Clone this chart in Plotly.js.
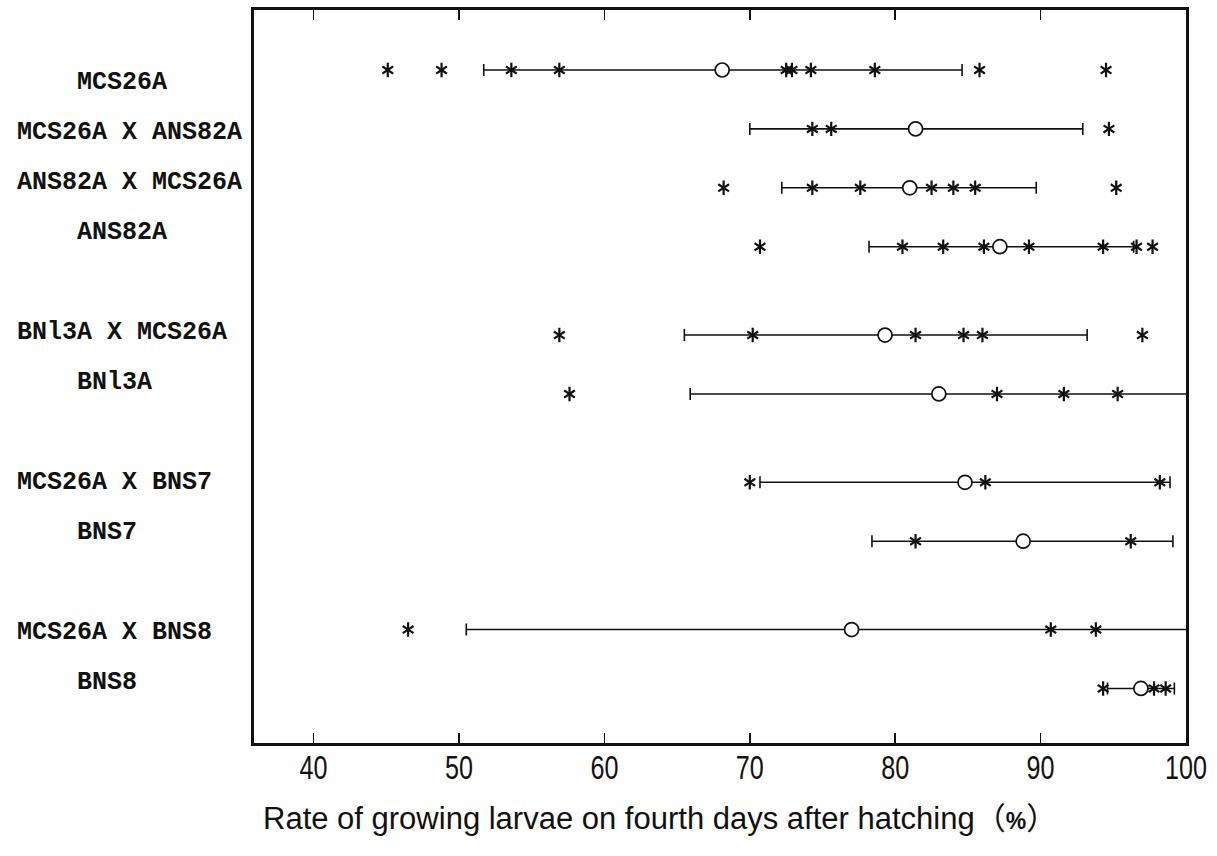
<!DOCTYPE html>
<html>
<head>
<meta charset="utf-8">
<script src="https://cdn.plot.ly/plotly-3.0.1.min.js"></script>
<style>
  html, body { margin: 0; padding: 0; background: #ffffff; }
  #chart { width: 1217px; height: 856px; }
  /* narrow, tall tick numerals (label groups only, not the tick marks) */
  #chart g.xtick {
    transform-box: fill-box;
    transform-origin: center;
    transform: scaleX(0.74);
  }
</style>
</head>
<body>
<div id="chart"></div>
<script>
// Strains and crosses, top to bottom
const groups = [
  'MCS26A', 'MCS26A X ANS82A', 'ANS82A X MCS26A', 'ANS82A',
  'BNl3A X MCS26A', 'BNl3A',
  'MCS26A X BNS7', 'BNS7',
  'MCS26A X BNS8', 'BNS8'
];

// Mean rate (%) of each group
const means = [68.1, 81.4, 81.0, 87.2, 79.3, 83.0, 84.8, 88.8, 77.0, 96.9];

// Lower and upper ends of the mean ± SD bar
const sdLow  = [51.7, 70.0, 72.2, 78.2, 65.5, 65.9, 70.7, 78.4, 50.5, 94.6];
const sdHigh = [84.6, 92.9, 89.7, 96.4, 93.2, 100.1, 98.9, 99.1, 103.5, 99.2];

// Individual observations (%) per group
const obsMCS26A        = [45.1, 48.8, 53.6, 56.9, 72.5, 72.9, 74.2, 78.6, 85.8, 94.5];
const obsMCS26xANS82   = [74.3, 75.6, 94.7];
const obsANS82xMCS26   = [68.2, 74.3, 77.6, 82.5, 84.0, 85.5, 95.2];
const obsANS82A        = [70.7, 80.5, 83.3, 86.1, 89.2, 94.3, 96.6, 97.7];
const obsBN13xMCS26    = [56.9, 70.2, 81.4, 84.7, 86.0, 97.0];
const obsBN13A         = [57.6, 87.0, 91.6, 95.3];
const obsMCS26xBNS7    = [70.0, 86.2, 98.2];
const obsBNS7          = [81.4, 96.2];
const obsMCS26xBNS8    = [46.5, 90.7, 93.8];
const obsBNS8          = [94.3, 97.8, 98.6];

const observations = [
  obsMCS26A, obsMCS26xANS82, obsANS82xMCS26, obsANS82A,
  obsBN13xMCS26, obsBN13A, obsMCS26xBNS7, obsBNS7,
  obsMCS26xBNS8, obsBNS8
];

const xTicks = [40, 50, 60, 70, 80, 90, 100];

// ---- layout of rows (vertical slots) ----
const rowSlot   = [0, 1, 2, 3, 4.5, 5.5, 7, 8, 9.5, 10.5];
const labelSlot = [0, 1, 2, 3, 5, 6, 8, 9, 11, 12];
const labelY = s => 0.204 + 0.849 * s;

// flatten observations into x / y pairs
const obsX = [], obsY = [];
observations.forEach((arr, i) => arr.forEach(v => { obsX.push(v); obsY.push(rowSlot[i]); }));

const starLine = { color: '#111111', width: 2.2 };

const traces = [
  {
    type: 'scatter', mode: 'markers', x: obsX, y: obsY, hoverinfo: 'x',
    marker: { symbol: 'y-up-open', size: 9, color: '#111111', line: starLine },
    showlegend: false
  },
  {
    type: 'scatter', mode: 'markers', x: obsX, y: obsY, hoverinfo: 'skip',
    marker: { symbol: 'y-down-open', size: 9, color: '#111111', line: starLine },
    showlegend: false
  },
  {
    type: 'scatter', mode: 'markers',
    x: means, y: rowSlot, hoverinfo: 'x',
    error_x: {
      type: 'data', symmetric: false,
      array: means.map((m, i) => sdHigh[i] - m),
      arrayminus: means.map((m, i) => m - sdLow[i]),
      color: '#111111', thickness: 1.6, width: 6
    },
    marker: { symbol: 'circle', size: 14, color: '#ffffff', line: { color: '#111111', width: 1.7 } },
    showlegend: false
  }
];

const annotations = groups.map((g, i) => ({
  text: g,
  xref: 'paper', yref: 'y',
  x: g.indexOf(' X ') >= 0 ? (15 - 254) / 932 : (75 - 254) / 932,
  y: labelY(labelSlot[i]),
  xanchor: 'left', yanchor: 'middle',
  showarrow: false,
  font: { family: 'Liberation Mono, DejaVu Sans Mono, monospace', size: 25, color: '#111111', weight: 'bold' }
}));

annotations.push({
  text: 'Rate of growing larvae on fourth days after hatching<span style="font-family:Noto Sans CJK JP">（</span><b><span style="font-size:23px">%</span></b><span style="font-family:Noto Sans CJK JP">）</span>',
  xref: 'paper', yref: 'paper',
  x: (660 - 254) / 932, y: (743 - 815) / 733,
  xanchor: 'center', yanchor: 'middle',
  showarrow: false,
  font: { family: 'Liberation Sans, Arial, sans-serif', size: 31, color: '#111111' }
});

const layout = {
  width: 1217, height: 856,
  margin: { l: 254, r: 31, t: 10, b: 113 },
  paper_bgcolor: '#ffffff', plot_bgcolor: '#ffffff',
  showlegend: false,
  xaxis: {
    range: [35.9, 100],
    tickvals: xTicks, ticktext: xTicks.map(String),
    ticks: 'inside', ticklen: 10, tickwidth: 1.6, tickcolor: '#111111',
    showline: true, linewidth: 3, linecolor: '#111111', mirror: 'ticks',
    showgrid: false, zeroline: false,
    ticklabelstandoff: -8,
    tickfont: { family: 'Liberation Sans, Arial, sans-serif', size: 34, color: '#111111' }
  },
  yaxis: {
    range: [11.426, -1.019],
    showticklabels: false, ticks: '',
    showline: true, linewidth: 3, linecolor: '#111111', mirror: true,
    showgrid: false, zeroline: false
  },
  annotations: annotations
};

Plotly.newPlot('chart', traces, layout, { displayModeBar: false, staticPlot: true });
</script>
</body>
</html>
